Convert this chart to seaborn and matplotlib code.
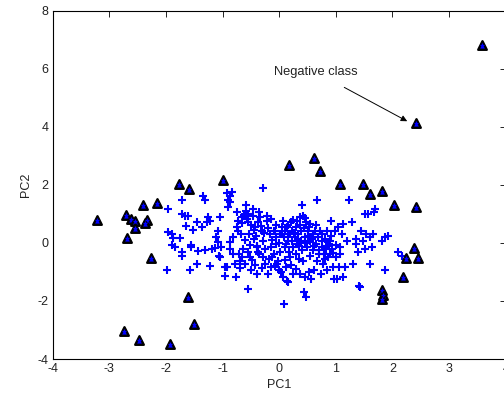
import matplotlib
matplotlib.use("Agg")
import matplotlib.pyplot as plt
import seaborn as sns
import pandas as pd

# PCA scores of the positive class (blue plus markers)
pc1_pos = [
    -1.99, -1.97, -1.96, -1.90, -1.87, -1.90, -1.84, -1.75, -1.72, -1.71, -1.71, -1.72, -1.66, -1.61,
    -1.64, -1.55, -1.55, -1.58, -1.52, -1.46, -1.43, -1.46, -1.37, -1.34, -1.31, -1.31, -1.28, -1.25,
    -1.22, -1.22, -1.19, -1.14, -1.11, -1.08, -1.08, -1.05, -1.06, -1.05, -1.02, -0.96, -0.96, -0.93,
    -0.90, -0.87, -0.90, -0.87, -0.84, -0.93, -0.87, -0.87, -0.81, -0.81, -0.78, -0.76, -0.74, -0.72,
    -0.72, -0.71, -0.69, -0.66, -0.65, -0.64, -0.61, -0.59, -0.58, -0.55, -0.55, -0.53, -0.55, -0.52,
    -0.51, -0.49, -0.47, -0.46, -0.43, -0.41, -0.40, -0.40, -0.37, -0.35, -0.34, -0.31, -0.28, -0.28,
    -0.28, -0.25, -0.22, -0.21, -0.19, -0.16, -0.15, -0.14, -0.14, -0.12, -0.09, -0.08, -0.06, -0.05,
    -0.04, -0.02, 0.00, 0.01, 0.02, 0.04, 0.06, 0.07, 0.08, 0.10, 0.10, 0.12, 0.13, 0.14, 0.16, 0.16,
    0.19, 0.19, 0.20, 0.22, 0.24, 0.25, 0.28, 0.29, 0.31, 0.32, 0.34, 0.35, 0.36, 0.36, 0.39, 0.39,
    0.41, 0.42, 0.42, 0.44, 0.45, 0.45, 0.47, 0.48, 0.49, 0.51, 0.53, 0.54, 0.55, 0.57, 0.59, 0.60,
    0.61, 0.63, 0.65, 0.66, 0.67, 0.69, 0.71, 0.72, 0.73, 0.75, 0.76, 0.78, 0.79, 0.81, 0.82, 0.84,
    0.85, 0.86, 0.88, 0.89, 0.91, 0.92, 0.94, 0.95, 0.96, 0.98, 1.00, 1.01, 1.02, 1.04, 1.06, 1.07,
    1.08, 1.10, 1.12, 1.13, 1.16, 1.19, 1.24, 1.28, 1.31, 1.35, 1.36, 1.39, 1.41, 1.42, 1.45, 1.48,
    1.51, 1.51, 1.54, 1.57, 1.60, 1.60, 1.63, 1.66, 1.67, 1.69, 1.81, 1.86, 1.86, 1.92, 2.10, 2.16,
    -0.62, -0.57, -0.50, -0.45, -0.38, -0.33, -0.27, -0.20, -0.60, -0.55, -0.48, -0.42, -0.35, -0.30,
    -0.25, -0.18, -0.12, -0.08, -0.65, -0.70, -0.75, -0.68, 0.05, 0.08, 0.12, 0.15, 0.18, 0.22,
    0.26, 0.30, 0.33, 0.37, 0.40, 0.43, 0.46, 0.50, 0.52, 0.55, 0.58, 0.62, 0.10, 0.20, 0.30, 0.05,
    0.25, 0.45, 0.65, 0.70, 0.80, 0.85, 0.90, 0.95, 0.75, -0.05, -0.10, 0.00, 0.15, 0.35, -0.45, -0.40,
]
pc2_pos = [
    -0.93, 1.17, 0.37, 0.31, 0.17, -0.09, -0.15, 0.17, -0.32, -0.44, 1.46, 1.00, 0.94, 0.91,
    0.57, -0.09, -0.15, -0.93, 0.45, 0.71, -0.29, -0.72, 0.54, 1.63, 1.46, -0.24, 0.71, 0.88,
    0.77, -0.78, -0.21, -0.17, 0.20, 0.42, 0.02, 0.88, -0.44, -0.49, -0.15, -0.84, -1.13, 1.71,
    1.46, 1.63, 1.23, 1.40, 1.75, -0.84, 0.02, -0.21, 0.20, -0.38, -0.72, -1.16, 1.06, 0.77,
    0.42, -0.38, -0.61, 0.88, 0.68, -0.21, -0.72, 1.29, 1.11, 1.00, 0.71, 0.31, -1.58, -0.09,
    -0.49, -0.95, 1.17, 0.94, 0.54, 0.25, -1.07, -0.15, -0.32, 1.06, 0.88, 0.42, 1.89, 0.08,
    -0.49, -0.72, 0.94, 0.77, -1.07, 0.31, -0.15, 0.82, -0.84, -0.49, -0.38, 0.42, -0.03, 0.20,
    -0.72, -0.61, -0.95, -0.32, 0.31, -1.00, -1.18, 0.77, -2.10, 0.42, -0.15, -0.84, -1.30, 0.54, 0.08, -1.36,
    0.31, -0.49, 0.71, 0.42, -0.15, -1.07, 0.20, 0.54, -0.03, 0.77, 0.31, -0.55, 0.88, -1.07, 0.42, 0.08,
    1.29, 0.94, -0.61, -1.70, 0.20, -1.18, -1.87, 0.71, -0.15, 0.42, -1.00, 0.66, 0.08, -1.24, 0.31, -0.26,
    -0.95, 0.42, -0.03, -0.61, 1.46, 0.20, -0.26, 0.42, -1.07, -0.15, 0.31, -0.72, -0.38, 0.14, -0.21, -0.95,
    0.42, -0.49, -0.03, -0.38, 0.77, 0.25, -0.21, -0.84, -1.24, 0.42, -0.49, -0.09, -1.24, 0.54, -0.84, -0.15,
    -0.38, 0.31, -1.18, 0.66, -0.84, 0.08, 1.46, 0.71, -0.72, -0.03, 0.14, -0.32, -1.47, -1.53, 0.42, 0.08,
    1.00, -0.21, 0.31, 1.00, -0.72, 0.20, -0.15, 0.31, 1.06, 1.17, 0.08, -0.93, 0.20, 0.25, -0.32, -0.44,
    0.95, 0.82, 0.60, 0.45, 0.72, 0.58, 0.35, 0.50, 0.10, -0.30, -0.60, -0.75, -0.40, -0.85,
    -0.20, -0.55, 0.10, -0.80, -0.50, -0.85, 0.55, 0.30, 0.55, 0.20, -0.05, 0.62, -0.30, 0.05,
    0.35, -0.40, 0.15, 0.60, -0.25, 0.50, 0.00, 0.25, 0.55, -0.45, 0.12, -0.10, -0.60, -0.75, -0.90, 0.30,
    0.80, 0.85, 0.60, -0.40, -0.55, -0.10, 0.05, -0.35, 0.05, 0.60, 0.40, 0.00, 0.30, -0.10, 0.15, -0.10,
]

# PCA scores of the negative class (triangles)
pc1_neg = [3.58, 2.41, 0.62, 0.18, 0.72, -0.99, -1.77, -1.59, 1.07, 1.48, 1.61, 1.81, 2.02,
           2.41, -2.16, -2.41, -3.21, -2.71, -2.61, -2.54, -2.33, -2.37, -2.54, -2.69, -2.26,
           2.38, 2.23, 2.45, 2.19, 1.82, 1.84, 1.82, -1.61, -1.50, -2.74, -2.47, -1.92]
pc2_neg = [6.82, 4.12, 2.93, 2.68, 2.49, 2.18, 2.04, 1.87, 2.02, 2.02, 1.69, 1.79, 1.32,
           1.25, 1.36, 1.32, 0.79, 0.96, 0.83, 0.77, 0.79, 0.68, 0.52, 0.16, -0.52,
           -0.17, -0.53, -0.52, -1.17, -1.64, -1.81, -1.95, -1.88, -2.81, -3.05, -3.34, -3.50]

x_ticks = [-4, -3, -2, -1, 0, 1, 2, 3, 4]
y_ticks = [-4, -2, 0, 2, 4, 6, 8]

pos = pd.DataFrame({"PC1": pc1_pos, "PC2": pc2_pos})
neg = pd.DataFrame({"PC1": pc1_neg, "PC2": pc2_neg})

sns.set_style("white")
plt.rcParams["font.family"] = ["Liberation Sans", "DejaVu Sans"]
plt.rcParams["axes.unicode_minus"] = False

fig = plt.figure(figsize=(5.04, 3.95), dpi=100)
ax = fig.add_axes([0.1045, 0.0911, 0.899, 0.882])

sns.scatterplot(data=pos, x="PC1", y="PC2", marker="+", color="#0000ff", s=28,
                linewidth=1.5, ax=ax, zorder=2)
sns.scatterplot(data=neg, x="PC1", y="PC2", marker="^", color="#0000ff", edgecolor="black",
                s=38, linewidth=1.7, ax=ax, zorder=3)
sns.scatterplot(data=neg, x="PC1", y="PC2", marker="+", color="#0000ff", s=10,
                linewidth=0.9, ax=ax, zorder=4)

ax.annotate("Negative class", xy=(2.26, 4.19), xytext=(0.65, 5.88),
            ha="center", va="center", fontsize=9.3, color="#222222",
            arrowprops=dict(arrowstyle="-|>", color="black", lw=0.7,
                            mutation_scale=9, shrinkA=9, shrinkB=0))

ax.set_xlim(-4, 4)
ax.set_ylim(-4, 8)
ax.set_xticks(x_ticks)
ax.set_yticks(y_ticks)
ax.set_xlabel("PC1", fontsize=9, labelpad=3, color="#222222")
ax.set_ylabel("PC2", fontsize=9, labelpad=4, color="#222222")
ax.tick_params(direction="in", length=4, width=0.6, labelsize=9, top=True, right=True,
               pad=3, colors="black", labelcolor="#222222")
for sp in ax.spines.values():
    sp.set_color("black")
    sp.set_linewidth(0.8)

fig.savefig("out.png", dpi=100)
